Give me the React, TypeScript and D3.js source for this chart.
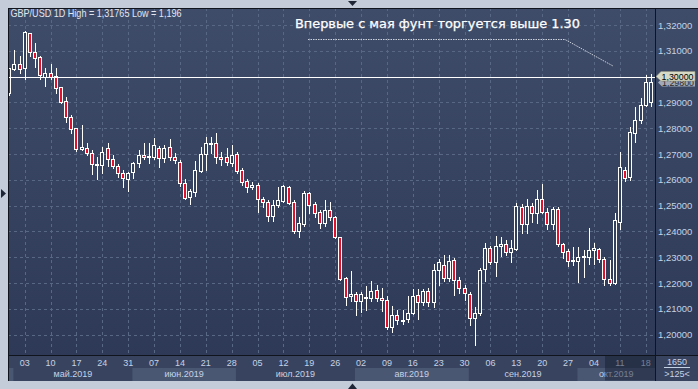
import React from "react";
import * as d3 from "d3";

// GBP/USD daily candles, 30 Apr 2019 .. 21 Oct 2019 (weekdays)
const opens = [
  1.2935, 1.3031, 1.3047, 1.3032, 1.3168, 1.3094, 1.3075, 1.3, 1.3013, 1.3004,
  1.2959, 1.2905, 1.2842, 1.28, 1.2721, 1.2722, 1.2703, 1.2656, 1.2656, 1.2722,
  1.2679, 1.2653, 1.2625, 1.2604, 1.2631, 1.2664, 1.2696, 1.2687, 1.269, 1.2724,
  1.2683, 1.2726, 1.269, 1.267, 1.2586, 1.2532, 1.2554, 1.2634, 1.2699, 1.2741,
  1.2741, 1.2687, 1.2687, 1.2666, 1.27, 1.2638, 1.2595, 1.2573, 1.2579, 1.2524,
  1.2515, 1.2461, 1.2501, 1.2519, 1.2571, 1.2513, 1.2403, 1.2429, 1.2548, 1.2505,
  1.2474, 1.2434, 1.2483, 1.2455, 1.2377, 1.2218, 1.2151, 1.2156, 1.213, 1.2141,
  1.2141, 1.2173, 1.2142, 1.2134, 1.2028, 1.2076, 1.2053, 1.2059, 1.2083, 1.2153,
  1.2125, 1.2169, 1.2128, 1.225, 1.227, 1.2218, 1.2289, 1.2212, 1.2179, 1.2157,
  1.2063, 1.2085, 1.2253, 1.2335, 1.2283, 1.2345, 1.2351, 1.2321, 1.2333, 1.2496,
  1.2428, 1.2498, 1.247, 1.2524, 1.2476, 1.2428, 1.2486, 1.235, 1.2324, 1.2286,
  1.2286, 1.23, 1.2302, 1.2329, 1.2331, 1.2292, 1.2214, 1.2201, 1.2438, 1.2638,
  1.2612, 1.2783, 1.2832, 1.289, 1.2903,
];
const highs = [
  1.3035, 1.3103, 1.308, 1.3176, 1.317, 1.3131, 1.308, 1.3032, 1.3049, 1.3032,
  1.296, 1.292, 1.2851, 1.2801, 1.2812, 1.2743, 1.2716, 1.269, 1.2728, 1.2744,
  1.2696, 1.2661, 1.2638, 1.2631, 1.267, 1.2716, 1.2741, 1.2741, 1.2761, 1.2731,
  1.2735, 1.2757, 1.2703, 1.2677, 1.2602, 1.2563, 1.2673, 1.2728, 1.2765, 1.2767,
  1.2783, 1.2707, 1.2722, 1.2735, 1.2707, 1.2645, 1.2602, 1.259, 1.2586, 1.2535,
  1.2522, 1.2522, 1.2571, 1.258, 1.2576, 1.2522, 1.2455, 1.2557, 1.2554, 1.2515,
  1.2483, 1.2522, 1.2515, 1.246, 1.2379, 1.2222, 1.2247, 1.2166, 1.2166, 1.2188,
  1.2208, 1.2192, 1.2179, 1.215, 1.2111, 1.2095, 1.2095, 1.215, 1.2176, 1.2176,
  1.2176, 1.2179, 1.2274, 1.2292, 1.2309, 1.2309, 1.2296, 1.2224, 1.2192, 1.2166,
  1.2108, 1.2257, 1.2356, 1.2343, 1.2382, 1.2379, 1.2367, 1.2367, 1.2509, 1.2505,
  1.2524, 1.2509, 1.256, 1.2584, 1.249, 1.2496, 1.2496, 1.2356, 1.2331, 1.2341,
  1.2338, 1.2328, 1.2412, 1.2354, 1.2335, 1.23, 1.2289, 1.2472, 1.2709, 1.265,
  1.2806, 1.2881, 1.2916, 1.3006, 1.301,
];
const lows = [
  1.293, 1.3026, 1.3015, 1.299, 1.3081, 1.3038, 1.299, 1.2965, 1.299, 1.2938,
  1.2899, 1.2825, 1.278, 1.2713, 1.2716, 1.2696, 1.2621, 1.2602, 1.2626, 1.2653,
  1.2645, 1.2612, 1.2573, 1.2558, 1.2606, 1.265, 1.2679, 1.2666, 1.2679, 1.2651,
  1.267, 1.2677, 1.2664, 1.2576, 1.2526, 1.2505, 1.2538, 1.263, 1.2638, 1.2705,
  1.2666, 1.2657, 1.2657, 1.2653, 1.2628, 1.258, 1.2554, 1.2563, 1.2476, 1.2496,
  1.244, 1.2441, 1.2496, 1.2515, 1.2506, 1.2393, 1.2379, 1.2421, 1.2471, 1.2455,
  1.2414, 1.2421, 1.2444, 1.2374, 1.2212, 1.2115, 1.2131, 1.2076, 1.2089, 1.2095,
  1.213, 1.213, 1.2093, 1.2021, 1.2011, 1.2041, 1.2041, 1.205, 1.208, 1.2059,
  1.2115, 1.2111, 1.2108, 1.2192, 1.2208, 1.2208, 1.2153, 1.216, 1.2134, 1.2037,
  1.196, 1.2076, 1.2209, 1.2274, 1.2227, 1.2305, 1.2309, 1.2283, 1.2328, 1.2395,
  1.2393, 1.2438, 1.2434, 1.247, 1.2409, 1.2409, 1.2343, 1.2298, 1.2267, 1.227,
  1.2205, 1.2224, 1.2274, 1.2274, 1.2283, 1.2192, 1.2192, 1.2195, 1.2408, 1.2595,
  1.2599, 1.2748, 1.282, 1.2886, 1.2886,
];
const closes = [
  1.3032, 1.3049, 1.3031, 1.3172, 1.3094, 1.3072, 1.3005, 1.3013, 1.2997, 1.2955,
  1.2903, 1.2842, 1.2796, 1.2718, 1.2728, 1.2703, 1.2661, 1.2661, 1.2709, 1.2679,
  1.2653, 1.2625, 1.2606, 1.2625, 1.2664, 1.2696, 1.2687, 1.2692, 1.2734, 1.2683,
  1.2724, 1.2687, 1.2675, 1.2586, 1.2531, 1.2557, 1.2638, 1.27, 1.2741, 1.2744,
  1.2687, 1.2682, 1.267, 1.2696, 1.2635, 1.2593, 1.2571, 1.2579, 1.2524, 1.2514,
  1.2461, 1.2501, 1.2522, 1.2576, 1.2511, 1.2403, 1.2431, 1.2548, 1.2502, 1.2472,
  1.2434, 1.2483, 1.2455, 1.2379, 1.2214, 1.2147, 1.2156, 1.213, 1.2156, 1.2146,
  1.2169, 1.2141, 1.2133, 1.2028, 1.2076, 1.2057, 1.2057, 1.2083, 1.215, 1.2125,
  1.2169, 1.2128, 1.225, 1.228, 1.2218, 1.2286, 1.2212, 1.2179, 1.216, 1.2063,
  1.2083, 1.225, 1.2335, 1.2283, 1.2343, 1.235, 1.2321, 1.2335, 1.2498, 1.2428,
  1.2498, 1.247, 1.2524, 1.2476, 1.2428, 1.2486, 1.235, 1.2321, 1.2286, 1.2289,
  1.23, 1.2305, 1.2328, 1.2335, 1.2292, 1.2214, 1.2201, 1.2444, 1.2651, 1.2606,
  1.2786, 1.2832, 1.289, 1.298, 1.298,
];

const priceTicks = [1.2, 1.21, 1.22, 1.23, 1.24, 1.25, 1.26, 1.27, 1.28, 1.29, 1.3, 1.31, 1.32];
const monthNames = ["янв", "фев", "мар", "апр", "май", "июн", "июл", "авг", "сен", "окт", "ноя", "дек"];

const days = d3
  .timeDay.range(new Date(2019, 3, 30), new Date(2019, 9, 22))
  .filter((d) => d.getDay() > 0 && d.getDay() < 6);

const header = "GBP/USD 1D High = 1,31765 Low = 1,196";
const note = "Впервые с мая фунт торгуется выше 1.30";
const levelPrice = 1.3;

export default function App() {
  const W = 698, H = 389;
  const L = 8, T = 8, R = 655, B = 355, AB = 381, RR = 698;
  const font = "'Liberation Sans', Arial, sans-serif";

  const y = d3.scaleLinear().domain([1.2, 1.32]).range([334.6, 25]);
  const x = d3.scaleBand<number>().domain(d3.range(days.length)).range([6.6, 653.5]);
  const cx = (i: number) => (x(i) as number) + x.bandwidth() / 2;
  const px = (v: number) => Math.round(v) + 0.5;

  const fridays = days.map((d, i) => ({ d, i })).filter((o) => o.d.getDay() === 5);

  // month bands on the date axis
  const months: { m: number; start: number; end: number }[] = [];
  days.forEach((d, i) => {
    if (i === 0 || d.getMonth() !== days[i - 1].getMonth()) {
      const start = i === 0 ? L : cx(i) - 1;
      if (months.length) months[months.length - 1].end = start;
      months.push({ m: d.getMonth(), start, end: R });
    }
  });

  const fmt = (v: number) => v.toFixed(5).replace(".", ",");
  const lastClose = closes[closes.length - 1];
  const ly = px(y(levelPrice)) - 1;
  const cy = ly + 6;

  return (
    <div style={{ position: "absolute", left: 0, top: 0 }}>
      <svg width={W} height={H} style={{ display: "block" }}>
        <defs>
          <linearGradient id="pg" x1="0" y1="0" x2="0" y2="1">
            <stop offset="0" stopColor="#3f4c69" />
            <stop offset="1" stopColor="#2c3855" />
          </linearGradient>
          <clipPath id="plot">
            <rect x={L + 1} y={T + 1} width={R - L - 1} height={B - T - 1} />
          </clipPath>
        </defs>

        <rect width={W} height={H} fill="#c3ccd8" />
        <rect x={L} y={T} width={RR - L} height={AB - T} fill="url(#pg)" />
        <rect x={L} y={B} width={RR - L} height={AB - B} fill="#38445f" />

        {months.map((o) =>
          o.m % 2 === 1 ? (
            <rect key={"mb" + o.m} x={o.start} y={368} width={Math.max(0, Math.min(o.end, R) - o.start)} height={AB - 368} fill="#4a5773" />
          ) : null
        )}

        {/* grid */}
        <g stroke="#586783" strokeWidth={1} strokeDasharray="3 3" clipPath="url(#plot)">
          {priceTicks.map((p) => (
            <line key={"h" + p} x1={L} x2={R} y1={px(y(p))} y2={px(y(p))} />
          ))}
          {fridays.map((o) => (
            <line key={"v" + o.i} x1={px(cx(o.i))} x2={px(cx(o.i))} y1={T} y2={B} />
          ))}
        </g>

        {/* candles */}
        <g clipPath="url(#plot)">
          {days.map((d, i) => {
            const c = Math.round(cx(i));
            const up = closes[i] >= opens[i];
            const top = px(y(Math.max(opens[i], closes[i])));
            const bot = px(y(Math.min(opens[i], closes[i])));
            return (
              <g key={i}>
                <line x1={c + 0.5} x2={c + 0.5} y1={Math.round(y(highs[i]))} y2={Math.round(y(lows[i])) + 1} stroke="#ffffff" />
                <rect
                  x={c - 1.5}
                  y={top}
                  width={3}
                  height={Math.max(1, bot - top)}
                  fill={up ? "#34415d" : "#e3102c"}
                  stroke="#ffffff"
                  strokeWidth={1}
                />
              </g>
            );
          })}
        </g>

        {/* 1.30 level */}
        <line x1={L} x2={R} y1={px(y(levelPrice))} y2={px(y(levelPrice))} stroke="#ffffff" strokeWidth={1} />

        {/* annotation */}
        <text x={295} y={27.5} fill="#ffffff" fontFamily="'DejaVu Sans', sans-serif" fontSize={12.5} fontWeight={500} stroke="#ffffff" strokeWidth={0.25} textLength={285} lengthAdjust="spacingAndGlyphs">
          {note}
        </text>
        <polyline points="308,39.5 565,39.5 613,66" fill="none" stroke="#c9d0dc" strokeWidth={1} strokeDasharray="1.5 1" />

        <text x={10.5} y={17.3} fill="#e2e7ef" fontFamily={font} fontSize={10.5} textLength={171} lengthAdjust="spacingAndGlyphs">
          {header}
        </text>

        {/* right price axis */}
        {priceTicks.map((p) =>
          p === levelPrice ? null : (
            <text key={"pl" + p} x={658} y={y(p) + 3.5} fill="#c5d2e5" fontFamily={font} fontSize={9.5}>
              {fmt(p)}
            </text>
          )
        )}
        <g>
          {/* current-price tag, mostly hidden under the level tag */}
          <polygon points={`658,${cy} 662,${cy - 4} 695,${cy - 4} 695,${cy + 4} 662,${cy + 4}`} fill="#a3abb9" />
          <text x={662} y={cy + 3.8} fill="#2a2a2a" fontFamily={font} fontSize={9} textLength={32} lengthAdjust="spacingAndGlyphs">
            {fmt(lastClose)}
          </text>
          <polygon
            points={`656,${ly} 661,${ly - 5} 695,${ly - 5} 695,${ly + 4.5} 661,${ly + 4.5}`}
            fill="#d7dac4"
            stroke="#8e927e"
            strokeWidth={0.6}
          />
          <text x={661.5} y={ly + 3.5} fill="#000" fontFamily={font} fontSize={9.5} textLength={32} lengthAdjust="spacingAndGlyphs">
            {fmt(levelPrice)}
          </text>
        </g>

        {/* date axis */}
        {fridays.map((o) => (
          <text key={"dl" + o.i} x={cx(o.i)} y={366} textAnchor="middle" fill="#c5d2e5" fontFamily={font} fontSize={9}>
            {d3.timeFormat("%d")(o.d)}
          </text>
        ))}
        {months.map((o) => {
          const a = Math.max(o.start, L), b = Math.min(o.end, R);
          if (b - a < 40) return null;
          return (
            <text key={"ml" + o.m} x={(a + b) / 2} y={376.7} textAnchor="middle" fill="#c5d2e5" fontFamily={font} fontSize={9}>
              {monthNames[o.m] + ".2019"}
            </text>
          );
        })}
        <rect x={605} y={B} width={R - 605} height={AB - B - 0.5} fill="rgba(18,25,42,0.45)" />

        {/* corner box */}
        <text x={677} y={365} textAnchor="middle" fill="#c5d2e5" fontFamily={font} fontSize={9}>
          1650
        </text>
        <line x1={664} x2={690} y1={367.5} y2={367.5} stroke="#c5d2e5" strokeWidth={1} />
        <text x={677} y={377} textAnchor="middle" fill="#c5d2e5" fontFamily={font} fontSize={9}>
          {">125<"}
        </text>

        {/* frame lines */}
        <line x1={L + 0.5} x2={L + 0.5} y1={T} y2={AB} stroke="#10141c" />
        <line x1={L} x2={RR} y1={T + 0.5} y2={T + 0.5} stroke="#10141c" />
        <line x1={R + 0.5} x2={R + 0.5} y1={T} y2={AB} stroke="#10141c" />
        <line x1={L} x2={RR} y1={B + 0.5} y2={B + 0.5} stroke="#10141c" />

        {/* small markers on the frame */}
        <polygon points="348,1 357,1 352.5,6" fill="#1f2636" />
        <polygon points="348,389 357,389 352.5,383.5" fill="#1f2636" />
        <polygon points="1,189 1,198 6,193.5" fill="#1f2636" />
      </svg>
    </div>
  );
}
